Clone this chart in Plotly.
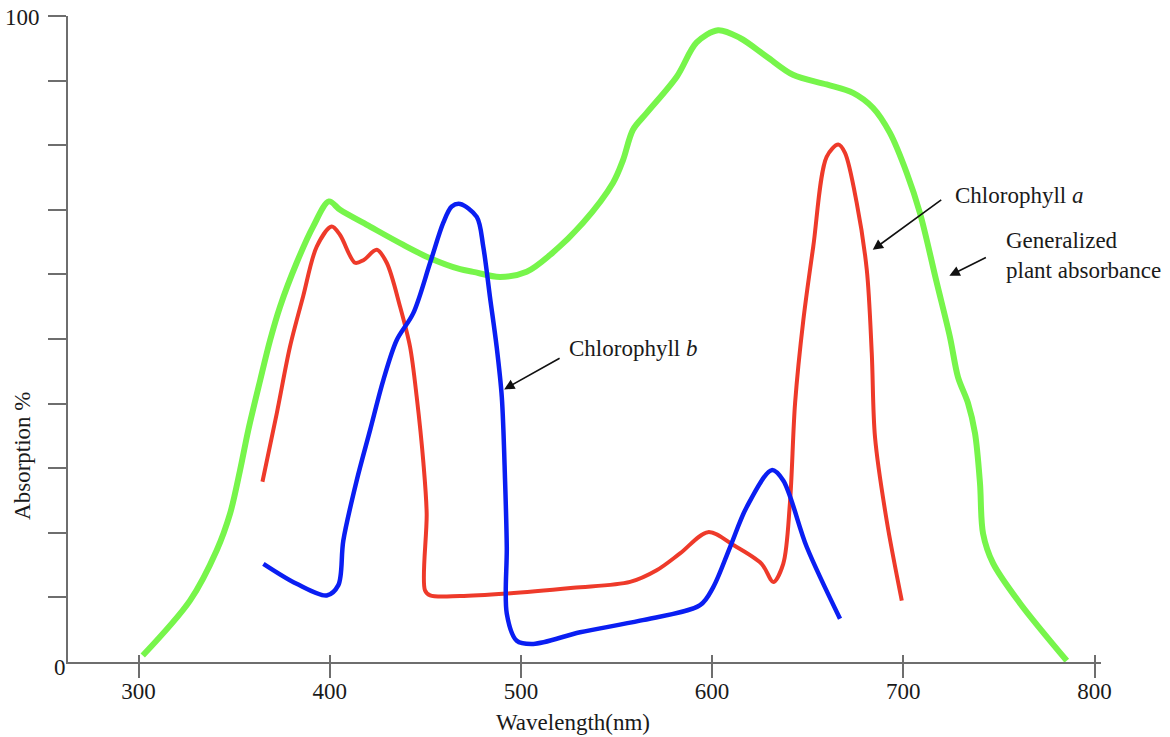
import plotly.graph_objects as go

# ---- data (wavelength nm, absorption %) ----
green_x = [302.2, 326.9, 340.9, 347.9, 353.1, 357.4, 363.6, 368.8, 374.0, 382.7, 391.3, 399.6,
           405.4, 421.1, 438.3, 452.5, 468.2, 475.0, 489.1, 503.0, 515.2, 532.5, 548.2, 553.4,
           558.6, 565.8, 581.5, 591.9, 603.1, 614.6, 628.6, 642.3, 659.9, 673.7, 684.1, 693.0,
           701.8, 708.7, 717.5, 724.4, 728.6, 733.8, 737.5, 740.1, 741.7, 746.9, 761.0, 785.5]
green_y = [1.0, 9.5, 17.3, 23.0, 29.7, 35.9, 43.6, 49.8, 55.0, 61.8, 67.4, 71.3,
           70.0, 67.4, 64.6, 62.5, 60.8, 60.4, 59.6, 60.4, 63.0, 68.0, 74.2, 77.7,
           82.4, 85.0, 90.6, 95.9, 97.8, 96.6, 93.7, 90.9, 89.4, 88.1, 85.8, 81.9,
           75.7, 69.5, 58.7, 50.3, 44.1, 40.1, 35.4, 27.7, 19.9, 15.3, 9.1, 0.2]

chl_a_x = [364.8, 372.3, 379.2, 386.0, 393.2, 401.0, 405.4, 413.2, 417.6, 424.6, 429.8, 436.8,
           442.0, 445.5, 449.0, 450.7, 449.8, 452.5, 468.2, 492.6, 527.4, 557.1, 571.0, 583.2,
           597.9, 611.1, 625.9, 632.0, 637.2, 640.7, 643.4, 647.7, 652.9, 659.9, 666.0, 669.5,
           675.6, 680.9, 683.5, 685.2, 691.3, 699.2]
chl_a_y = [27.9, 38.5, 48.8, 56.5, 64.3, 67.4, 66.1, 61.8, 62.2, 63.8, 61.8, 55.0,
           48.8, 41.0, 30.8, 23.0, 11.1, 10.3, 10.2, 10.6, 11.5, 12.4, 14.2, 16.8,
           20.1, 18.1, 15.2, 12.4, 15.2, 24.6, 40.1, 52.9, 64.3, 78.2, 80.1, 78.8,
           71.1, 60.7, 47.8, 34.8, 21.9, 9.5]

chl_b_x = [365.3, 382.7, 398.4, 404.5, 407.1, 414.1, 421.1, 428.0, 435.0, 443.7, 452.5, 459.4,
           463.8, 468.2, 476.9, 480.3, 483.8, 487.3, 490.0, 491.7, 492.6, 492.6, 497.8, 506.5,
           530.9, 562.3, 593.7, 600.6, 609.4, 618.1, 631.2, 637.2, 649.5, 666.9]
chl_b_y = [15.2, 12.1, 10.3, 11.9, 18.8, 28.1, 35.9, 43.6, 49.8, 54.0, 61.8, 68.0,
           70.5, 70.9, 68.9, 64.3, 56.5, 48.8, 41.0, 28.1, 17.8, 7.5, 3.3, 2.8,
           4.6, 6.4, 8.8, 11.6, 17.8, 24.0, 29.7, 28.1, 17.8, 6.7]

x_ticks = [300, 400, 500, 600, 700, 800]
y_ticks = [10, 20, 30, 40, 50, 60, 70, 80, 90, 100]

FONT = "Liberation Serif"
AXC = "#6e6e6e"
TXT = "#1a1a1a"
FS = 23
SM = 0.9

fig = go.Figure()
fig.add_trace(go.Scatter(x=green_x, y=green_y, mode="lines",
                         line=dict(color="#77F54B", width=6, shape="spline", smoothing=SM)))
fig.add_trace(go.Scatter(x=chl_a_x, y=chl_a_y, mode="lines",
                         line=dict(color="#EE3A2A", width=4, shape="spline", smoothing=SM)))
fig.add_trace(go.Scatter(x=chl_b_x, y=chl_b_y, mode="lines",
                         line=dict(color="#0A1EF2", width=4.5, shape="spline", smoothing=SM)))
# invisible trace on overlay axis so inside tick marks render
fig.add_trace(go.Scatter(x=[x_ticks[0]], y=[0], xaxis="x2", mode="markers",
                         marker=dict(opacity=0), hoverinfo="skip"))

xr = [263.1, 803.4]
fig.update_layout(
    width=1170, height=737,
    margin=dict(l=68, r=69, t=16, b=75),
    paper_bgcolor="white", plot_bgcolor="white",
    showlegend=False,
    font=dict(family=FONT, size=FS, color=TXT),
    xaxis=dict(range=xr, showgrid=False, zeroline=False, showline=True,
               linecolor=AXC, linewidth=2, ticks="outside", ticklen=14, tickwidth=2,
               tickcolor=AXC, tickvals=x_ticks, ticktext=[str(v) for v in x_ticks],
               ticklabelstandoff=-7,
               tickfont=dict(family=FONT, size=FS, color=TXT)),
    xaxis2=dict(range=xr, overlaying="x", anchor="y", side="bottom", showgrid=False,
                zeroline=False, showline=False, ticks="inside", ticklen=7, tickwidth=2,
                tickcolor=AXC, tickvals=x_ticks, showticklabels=False),
    yaxis=dict(range=[0, 100], showgrid=False, zeroline=False, showline=True,
               linecolor=AXC, linewidth=2, ticks="outside", ticklen=18, tickwidth=2,
               tickcolor=AXC, tickvals=y_ticks, showticklabels=False),
)

ann = []
# axis labels
ann.append(dict(text="Wavelength(nm)", xref="x", yref="paper", x=527.2, y=-0.094,
                xanchor="center", yanchor="middle", showarrow=False,
                font=dict(family=FONT, size=FS, color=TXT)))
ann.append(dict(text="Absorption %", xref="paper", yref="y", x=-0.0436, y=31.9,
                xanchor="center", yanchor="middle", showarrow=False, textangle=-90,
                font=dict(family=FONT, size=FS, color=TXT)))
ann.append(dict(text="100", xref="paper", yref="y", x=-0.0252, y=100, yshift=-1,
                xanchor="right", yanchor="middle", showarrow=False,
                font=dict(family=FONT, size=FS, color=TXT)))
ann.append(dict(text="0", xref="paper", yref="paper", x=-0.0073, y=-0.0085,
                xanchor="center", yanchor="middle", showarrow=False,
                font=dict(family=FONT, size=FS, color=TXT)))
# curve labels
ann.append(dict(text="Chlorophyll <i>a</i>", xref="x", yref="y", x=726.0, y=72.2,
                xanchor="left", yanchor="middle", showarrow=False,
                font=dict(family=FONT, size=FS, color=TXT)))
ann.append(dict(text="Generalized<br>plant absorbance", xref="x", yref="y", x=752.7, y=62.9,
                xanchor="left", yanchor="middle", align="left", showarrow=False,
                font=dict(family=FONT, size=FS, color=TXT)))
ann.append(dict(text="Chlorophyll <i>b</i>", xref="x", yref="y", x=524.1, y=48.6,
                xanchor="left", yanchor="middle", showarrow=False,
                font=dict(family=FONT, size=FS, color=TXT)))
# arrows
for tx, ty, ax, ay in [(684.0, 63.8, 70, -51), (724.1, 59.8, 38, -19), (491.2, 42.2, 57, -32)]:
    ann.append(dict(text="", xref="x", yref="y", x=tx, y=ty, ax=ax, ay=ay,
                    showarrow=True, arrowhead=2, arrowsize=1.3, arrowwidth=1.6,
                    arrowcolor="#111111"))
fig.update_layout(annotations=ann)

fig.write_html("out.html", config={"displayModeBar": False},
               post_script="document.body.style.margin='0';")
